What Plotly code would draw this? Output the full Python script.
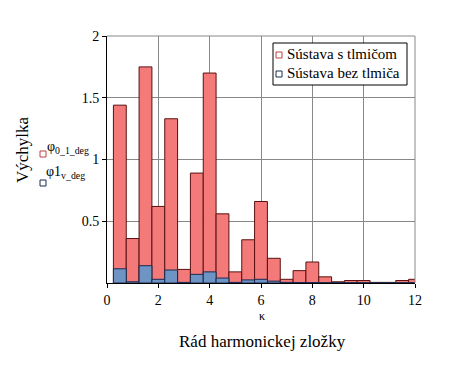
import plotly.graph_objects as go

k = [0.5, 1.0, 1.5, 2.0, 2.5, 3.0, 3.5, 4.0, 4.5, 5.0, 5.5, 6.0,
     6.5, 7.0, 7.5, 8.0, 8.5, 9.0, 9.5, 10.0, 10.5, 11.0, 11.5, 12.0]
s_tlmicom = [1.44, 0.36, 1.75, 0.62, 1.33, 0.11, 0.89, 1.70, 0.56, 0.09, 0.35, 0.66,
             0.20, 0.03, 0.10, 0.17, 0.05, 0.01, 0.02, 0.02, 0.005, 0.005, 0.02, 0.03]
bez_tlmica = [0.115, 0.01, 0.14, 0.03, 0.105, 0.005, 0.07, 0.09, 0.04, 0.005, 0.025, 0.03,
              0.015, 0.005, 0.004, 0.004, 0.003, 0.002, 0.002, 0.002, 0.001, 0.001, 0.002, 0.002]
yticks = [0.5, 1, 1.5, 2]
xticks = [0, 2, 4, 6, 8, 10, 12]
names = ["Sústava s tlmičom", "Sústava bez tlmiča"]

serif = "Liberation Serif"
L, T, W, H = 107, 36, 308, 247  # plot area in page px


def px2paper(x, y):
    return (x - L) / W, 1 - (y - T) / H


fig = go.Figure()
fig.add_trace(go.Bar(x=k, y=s_tlmicom, width=0.5, name=names[0],
                     marker=dict(color="#f47a7a", line=dict(color="#5a1010", width=1))))
fig.add_trace(go.Bar(x=k, y=bez_tlmica, width=0.5, name=names[1],
                     marker=dict(color="#6e94c4", line=dict(color="#1a2a50", width=1))))

fig.update_layout(
    barmode="overlay",
    width=442, height=357,
    margin=dict(l=99, r=35, t=28, b=82),
    paper_bgcolor="white", plot_bgcolor="white",
    font=dict(family=serif, size=14, color="black"),
    showlegend=False,
    xaxis=dict(range=[0, 12], tickvals=xticks, showgrid=True, gridcolor="#888888",
               gridwidth=1, showline=True, linecolor="black", mirror=False,
               ticks="outside", ticklen=4, tickcolor="black", zeroline=False,
               tickfont=dict(family=serif, size=14)),
    yaxis=dict(range=[0, 2], tickvals=yticks, showgrid=True, gridcolor="#888888",
               gridwidth=1, showline=True, linecolor="black",
               ticks="outside", ticklen=4, tickcolor="black", zeroline=False,
               tickfont=dict(family=serif, size=14)),
)

# top and right frame lines (gray)
fig.add_shape(type="line", xref="paper", yref="paper", x0=0, x1=1, y0=1, y1=1,
              line=dict(color="#888888", width=1))
fig.add_shape(type="line", xref="paper", yref="paper", x0=1, x1=1, y0=0, y1=1,
              line=dict(color="#888888", width=1))

# legend box (manual)
x0, y0 = px2paper(273, 85)
x1, y1 = px2paper(407, 43)
fig.add_shape(type="rect", xref="paper", yref="paper", x0=x0, x1=x1, y0=y0, y1=y1,
              line=dict(color="black", width=1), fillcolor="white", layer="above")

ann = [
    dict(text="Výchylka", x=22, y=150, textangle=-90, size=17, anchor="center"),
    dict(text="κ", x=262, y=316, textangle=0, size=12, anchor="center"),
    dict(text="Rád harmonickej zložky", x=262, y=341, textangle=0, size=17, anchor="center"),
    dict(text="φ<sub>0_1_deg</sub>", x=68, y=147, textangle=0, size=14, anchor="center"),
    dict(text="φ1<sub>v_deg</sub>", x=65, y=172, textangle=0, size=14, anchor="center"),
    dict(text=names[0], x=285, y=54, textangle=0, size=15, anchor="left"),
    dict(text=names[1], x=285, y=73, textangle=0, size=15, anchor="left"),
]
for a in ann:
    ax, ay = px2paper(a["x"], a["y"])
    fig.add_annotation(text=a["text"], xref="paper", yref="paper", x=ax, y=ay,
                       xanchor=a["anchor"], yanchor="middle", showarrow=False,
                       textangle=a["textangle"],
                       font=dict(family=serif, size=a["size"], color="black"))

# small marker squares
for (px, py, col) in [(43, 154, "#c04040"), (43, 183, "#1a2a50"),
                      (279, 55, "#c04040"), (279, 74, "#1a2a50")]:
    ax0, ay0 = px2paper(px - 3, py + 3)
    ax1, ay1 = px2paper(px + 3, py - 3)
    fig.add_shape(type="rect", xref="paper", yref="paper",
                  x0=ax0, x1=ax1, y0=ay0, y1=ay1, layer="above",
                  line=dict(color=col, width=1), fillcolor="white")

fig.write_html("out.html")
